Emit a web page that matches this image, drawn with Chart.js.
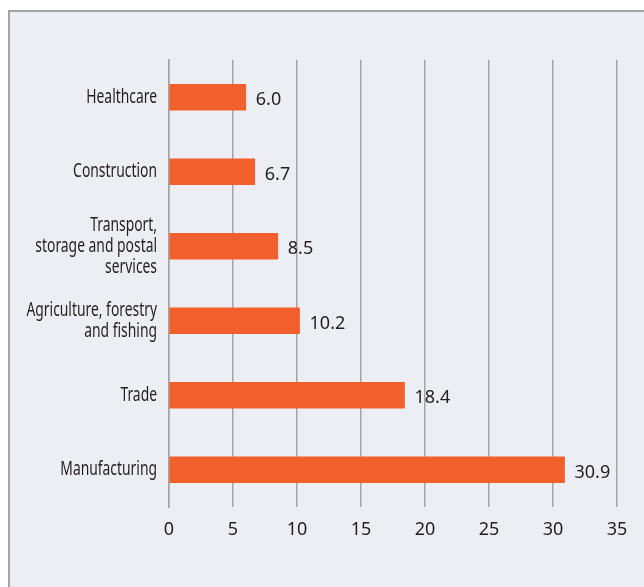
<!DOCTYPE html>
<html>
<head>
<meta charset="utf-8">
<script src="https://cdn.jsdelivr.net/npm/chart.js@4.4.1/dist/chart.umd.min.js"></script>
<style>
  html, body { margin: 0; padding: 0; background: #ffffff; overflow: hidden; }
  #frame {
    position: absolute; left: 8px; top: 10px; width: 660px; height: 600px;
    background: #edeef3; border-left: 2px solid #a4a4a4; border-top: 2px solid #a4a4a4;
  }
  #wrap { position: absolute; left: 0; top: 0; width: 644px; height: 587px; }
</style>
</head>
<body>
<div id="frame"></div>
<div id="wrap"><canvas id="myChart"></canvas></div>
<script>
'use strict';

// sectors, top to bottom
const sectors = [
  'Healthcare',
  'Construction',
  ['Transport,', 'storage and postal', 'services'],
  ['Agriculture, forestry', 'and fishing'],
  'Trade',
  'Manufacturing'
];
const shares = [6.0, 6.7, 8.5, 10.2, 18.4, 30.9];
const xTicks = [0, 5, 10, 15, 20, 25, 30, 35];

const ctx = document.getElementById('myChart');
const textColor = '#231f20';

// writes the value just past the end of each bar
const valueLabels = {
  id: 'valueLabels',
  afterDatasetsDraw(chart) {
    let c = chart.ctx;
    let meta = chart.getDatasetMeta(0);
    c.save();
    c.font = '18px "Noto Sans", "Open Sans", sans-serif';
    c.fillStyle = textColor;
    c.textAlign = 'left';
    c.textBaseline = 'middle';
    meta.data.forEach((bar, i) => {
      c.fillText(shares[i].toFixed(1), bar.x + 10, bar.y + 3);
    });
    c.restore();
  }
};

// condensed sector names drawn left of the axis (squeezed horizontally)
const sectorLabels = {
  id: 'sectorLabels',
  afterDraw(chart) {
    let c = chart.ctx;
    let yScale = chart.scales.y;
    let right = yScale.right - 12;
    let lineGap = 21;
    c.save();
    c.font = '19px "Noto Sans", sans-serif';
    c.fillStyle = textColor;
    c.textAlign = 'right';
    c.textBaseline = 'middle';
    sectors.forEach((name, i) => {
      let lines = Array.isArray(name) ? name : [name];
      let y = yScale.getPixelForValue(i);
      let start = y - (lines.length - 1) * lineGap / 2;
      lines.forEach((line, j) => {
        c.save();
        c.translate(right, start + j * lineGap);
        c.scale(0.73, 1);
        c.fillText(line, 0, 0);
        c.restore();
      });
    });
    c.restore();
  }
};

new Chart(ctx, {
  type: 'bar',
  data: {
    labels: sectors,
    datasets: [{
      data: shares,
      backgroundColor: '#f1602c',
      borderWidth: 0,
      barThickness: 26
    }]
  },
  options: {
    indexAxis: 'y',
    responsive: true,
    maintainAspectRatio: false,
    animation: false,
    layout: { padding: { top: 60, right: 27, left: 0, bottom: 0 } },
    plugins: {
      legend: { display: false },
      tooltip: { enabled: false }
    },
    scales: {
      x: {
        min: 0,
        max: 35,
        afterBuildTicks(scale) {
          scale.ticks = xTicks.map(v => ({ value: v }));
        },
        afterFit(scale) { scale.height = 80; },
        grid: { color: '#a4a4a4', lineWidth: 1.5, drawTicks: false },
        border: { display: false },
        ticks: {
          padding: 12,
          color: textColor,
          font: { family: '"Noto Sans", "Open Sans", sans-serif', size: 18 }
        }
      },
      y: {
        afterFit(scale) { scale.width = 169; },
        grid: { display: false, drawTicks: false },
        border: { color: '#a4a4a4', width: 1.5 },
        ticks: { display: false }
      }
    }
  },
  plugins: [valueLabels, sectorLabels]
});
</script>
</body>
</html>
